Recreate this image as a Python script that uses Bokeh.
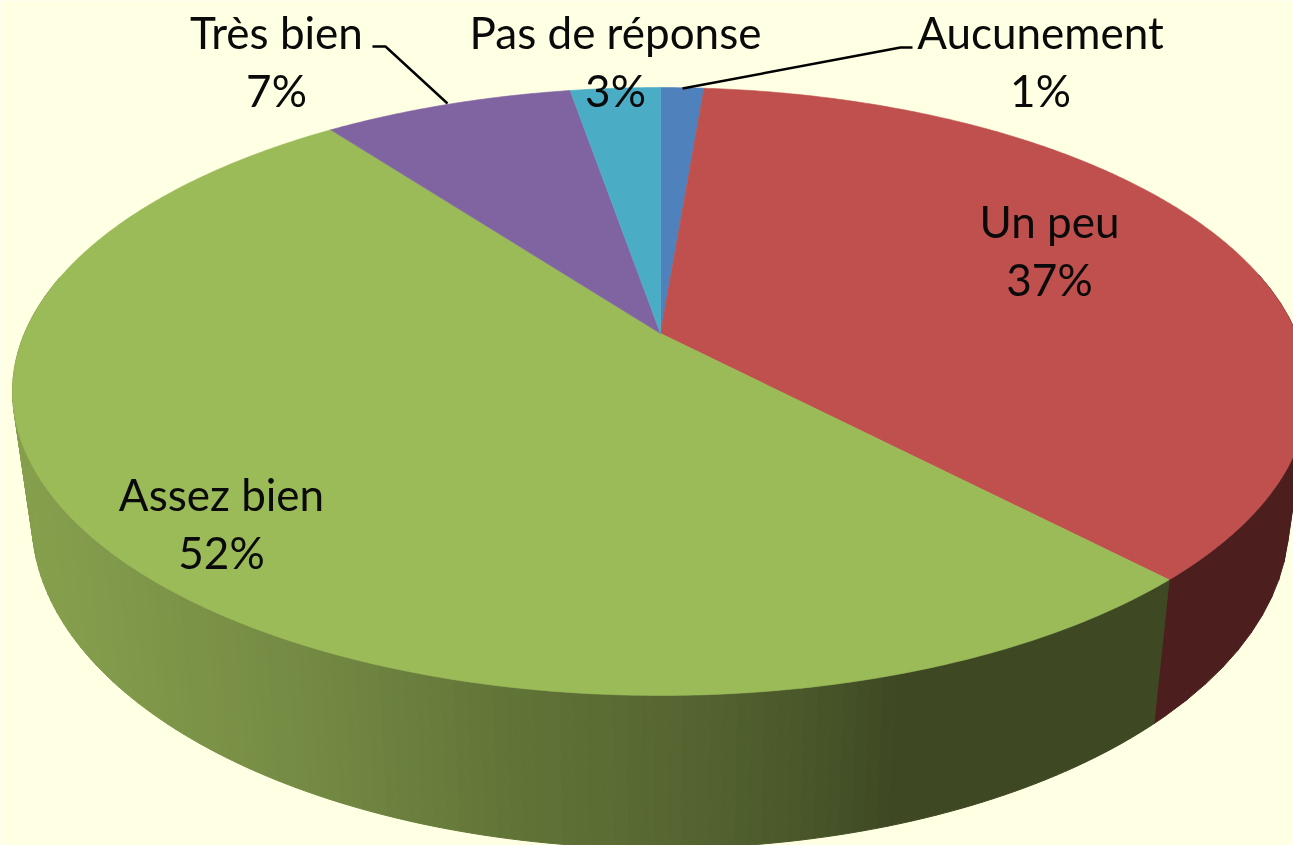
import numpy as np
from bokeh.plotting import figure
from bokeh.models import Range1d
from bokeh.core.properties import value
from bokeh.embed import file_html
from bokeh.resources import INLINE

# ---- data ----
categories = ["Aucunement", "Un peu", "Assez bien", "Très bien", "Pas de réponse"]
shares = [1.3, 36.6, 51.9, 7.5, 2.7]
labels = ["1%", "37%", "52%", "7%", "3%"]

# ---- style ----
BG = "#FFFFE4"
top_colors = ["#4F81BD", "#BF504D", "#9BBB59", "#8064A2", "#4BACC6"]
red_wall = "#4C1F1E"
wall_stop_x = [0, 60, 300, 500, 650, 800, 900, 1300]
wall_stop_rgb = [(134, 160, 77), (132, 157, 76), (116, 138, 67), (98, 117, 56),
                 (88, 104, 50), (74, 88, 42), (62, 72, 35), (62, 72, 35)]

# ---- projection of the disc onto the page ----
CX, CY = 660.0, 333.0
A, B, E = 636.0, 292.9, 0.1908
SX, SY, Y0 = 0.97, 1.077, 458.0


def rim(theta_deg):
    t = np.radians(theta_deg)
    X, Y = np.sin(t), np.cos(t)
    w = 1 + E * Y
    return CX + A * X / w, CY - B * Y / w


def lower(x, y):
    return CX + SX * (x - CX), Y0 + SY * (y - CY)


def wall_color(x):
    c = [np.interp(x, wall_stop_x, [s[i] for s in wall_stop_rgb]) for i in range(3)]
    return "#%02x%02x%02x" % tuple(int(round(v)) for v in c)


ends = np.cumsum(shares) / np.sum(shares) * 360.0
starts = np.concatenate([[0.0], ends[:-1]])

p = figure(width=1293, height=845, toolbar_location=None, output_backend="svg",
           x_range=Range1d(0, 1293), y_range=Range1d(845, 0),
           background_fill_color=BG, border_fill_color=BG, outline_line_color=None,
           min_border=0)
p.axis.visible = False
p.grid.visible = False
p.styles = {"position": "fixed", "left": "0", "top": "0"}

# side wall: red part (index 1) then green part (index 2)
wall_xs, wall_ys, wall_cols = [], [], []
red_grid = np.arange(78.0, ends[1], 3.0).tolist() + [ends[1]]
for a0, a1 in zip(red_grid[:-1], red_grid[1:]):
    x0, y0 = rim(a0); x1, y1 = rim(a1)
    lx0, ly0 = lower(x0, y0); lx1, ly1 = lower(x1, y1)
    wall_xs.append([x0, x1, lx1, lx0]); wall_ys.append([y0, y1, ly1, ly0])
    wall_cols.append(red_wall)
green_grid = [ends[1]] + np.arange(ends[1] + 1.0, 282.0, 1.0).tolist()
for a0, a1 in zip(green_grid[:-1], green_grid[1:]):
    x0, y0 = rim(a0); x1, y1 = rim(a1)
    lx0, ly0 = lower(x0, y0); lx1, ly1 = lower(x1, y1)
    wall_xs.append([x0, x1, lx1, lx0]); wall_ys.append([y0, y1, ly1, ly0])
    wall_cols.append(wall_color((x0 + x1) / 2))
p.patches(wall_xs, wall_ys, fill_color=wall_cols, line_color=wall_cols, line_width=1)

# top face
xs, ys = [], []
for s, e in zip(starts, ends):
    th = np.linspace(s, e, max(int((e - s) * 2), 6))
    rx, ry = rim(th)
    xs.append([CX] + rx.tolist())
    ys.append([CY] + ry.tolist())
p.patches(xs, ys, fill_color=top_colors, line_color=top_colors, line_width=0.6)

# leader lines
p.line([682, 900, 912], [88, 47, 47], line_color="#000000", line_width=2.4)
p.line([372, 385, 447], [46, 46, 103], line_color="#000000", line_width=2.4)

# labels
label_centre = {"Aucunement": (1040, 31), "Un peu": (1049, 220), "Assez bien": (221, 493),
                "Très bien": (276, 31), "Pas de réponse": (615, 31)}
LINE_GAP = 58
tx, ty, tt = [], [], []
for c, l in zip(categories, labels):
    x, y = label_centre[c]
    tx += [x, x]; ty += [y, y + LINE_GAP]; tt += [c, l]
p.text(tx, ty, text=tt, text_font=value("Lato"), text_font_size="44px",
       text_color="#0A0A0A", text_align="center", text_baseline="middle")

open("out.html", "w").write(file_html(p, INLINE))
